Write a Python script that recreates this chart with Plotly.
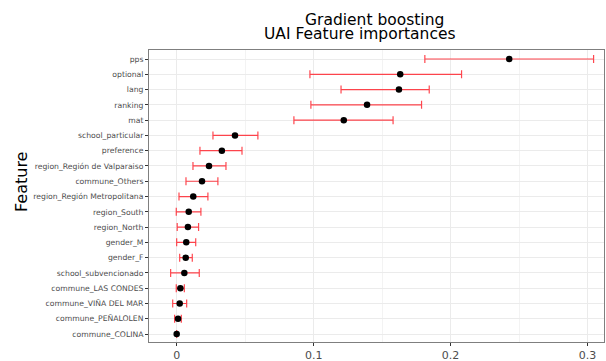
import plotly.graph_objects as go

features = ["pps", "optional", "lang", "ranking", "mat", "school_particular", "preference",
            "region_Región de Valparaiso", "commune_Others", "region_Región Metropolitana",
            "region_South", "region_North", "gender_M", "gender_F", "school_subvencionado",
            "commune_LAS CONDES", "commune_VIÑA DEL MAR", "commune_PEÑALOLEN", "commune_COLINA"]
importance = [0.2428, 0.1632, 0.1623, 0.139, 0.122, 0.0426, 0.033, 0.0236, 0.0185, 0.0121,
              0.0088, 0.0082, 0.007, 0.0066, 0.0056, 0.0027, 0.0022, 0.001, 0.0]
lower = [0.1812, 0.0973, 0.12, 0.098, 0.0856, 0.0265, 0.017, 0.0119, 0.0068, 0.0017,
         -0.0003, 0.0004, 0.0, 0.0022, -0.0044, -0.0003, -0.0029, -0.0015, 0.0]
upper = [0.3044, 0.208, 0.1844, 0.1788, 0.158, 0.0593, 0.0477, 0.036, 0.0301, 0.0228,
         0.0177, 0.016, 0.0139, 0.0114, 0.0165, 0.0056, 0.0073, 0.0034, 0.0]
x_ticks = [0, 0.1, 0.2, 0.3]
x_tick_labels = ["0", "0.1", "0.2", "0.3"]
title_line1 = "Gradient boosting"
title_line2 = "UAI Feature importances"
y_title = "Feature"

err_plus = [u - v for u, v in zip(upper, importance)]
err_minus = [v - l for v, l in zip(importance, lower)]

W, H = 606, 361
fig = go.Figure()
fig.add_trace(go.Scatter(
    x=importance, y=features, mode="markers",
    marker=dict(color="black", size=6.5),
    error_x=dict(type="data", symmetric=False, array=err_plus, arrayminus=err_minus,
                 color="rgba(255,30,40,0.82)", thickness=1.2, width=4),
    showlegend=False, hoverinfo="x+y",
))

fig.update_layout(
    width=W, height=H,
    margin=dict(l=149, r=2, t=50, b=19, autoexpand=False),
    paper_bgcolor="white", plot_bgcolor="white",
    font=dict(family="DejaVu Sans", color="#4d4d4d"),
    xaxis=dict(range=[-0.0202, 0.312], tickvals=x_ticks, ticktext=x_tick_labels,
               showgrid=True, gridcolor="#ebebeb", gridwidth=1.1, zeroline=False,
               ticks="outside", ticklen=3, tickcolor="#333333", automargin=False,
               tickfont=dict(size=11, color="#4d4d4d"),
               minor=dict(tickvals=[0.05, 0.15, 0.25], showgrid=True, gridcolor="#f3f3f3", gridwidth=0.6),
               showline=True, linecolor="#7f7f7f", linewidth=1, mirror=True),
    yaxis=dict(categoryorder="array", categoryarray=features[::-1],
               range=[-0.52, 18.59], showgrid=True, gridcolor="#ebebeb", gridwidth=1.1,
               ticks="outside", ticklen=3, tickcolor="#333333", automargin=False,
               tickfont=dict(size=7.7, color="#4d4d4d"),
               showline=True, linecolor="#7f7f7f", linewidth=1, mirror=True),
    annotations=[
        dict(text=title_line1, xref="paper", yref="paper", showarrow=False,
             x=(374.5 - 149) / (W - 151), y=1 - (20.5 - 50) / (H - 69) - 0.0,
             xanchor="center", yanchor="middle", font=dict(size=15.5, color="black")),
        dict(text=title_line2, xref="paper", yref="paper", showarrow=False,
             x=(360 - 149) / (W - 151), y=1 + (50 - 34.5) / (H - 69),
             xanchor="center", yanchor="middle", font=dict(size=15.5, color="black")),
        dict(text=y_title, xref="paper", yref="paper", showarrow=False, textangle=-90,
             x=(21 - 149) / (W - 151), y=(342 - 182) / (H - 69),
             xanchor="center", yanchor="middle", font=dict(size=16, color="black")),
    ],
)

fig.write_html("out.html", config={"displayModeBar": False},
               post_script="document.body.style.margin='0';")
